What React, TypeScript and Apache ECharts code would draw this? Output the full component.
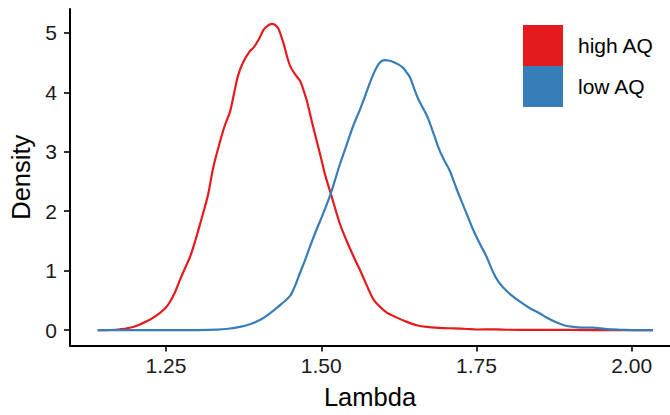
import React, { useEffect, useRef } from "react";
import * as echarts from "echarts";

const seriesNames = ["high AQ", "low AQ"];
const seriesColors = ["#E41A1C", "#377EB8"];

const highAQ: [number, number][] = [
  [1.14, 0], [1.16, 0.004], [1.176, 0.016], [1.197, 0.055], [1.219, 0.15], [1.235, 0.25],
  [1.248, 0.36], [1.256, 0.47], [1.265, 0.65], [1.273, 0.86], [1.281, 1.05], [1.289, 1.24],
  [1.297, 1.5], [1.305, 1.79], [1.312, 2.05], [1.318, 2.29], [1.326, 2.73], [1.337, 3.17],
  [1.345, 3.45], [1.353, 3.67], [1.36, 4.0], [1.366, 4.28], [1.374, 4.5], [1.385, 4.69],
  [1.391, 4.75], [1.4, 4.9], [1.407, 5.05], [1.414, 5.12], [1.42, 5.15], [1.426, 5.13],
  [1.431, 5.07], [1.439, 4.83], [1.445, 4.6], [1.45, 4.44], [1.458, 4.3], [1.466, 4.19],
  [1.471, 4.05], [1.477, 3.85], [1.485, 3.5], [1.493, 3.17], [1.5, 2.88], [1.506, 2.62],
  [1.517, 2.24], [1.53, 1.79], [1.541, 1.5], [1.552, 1.24], [1.562, 1.02], [1.576, 0.69],
  [1.584, 0.52], [1.595, 0.39], [1.605, 0.3], [1.62, 0.22], [1.638, 0.14], [1.655, 0.08],
  [1.67, 0.055], [1.69, 0.04], [1.713, 0.03], [1.735, 0.02], [1.75, 0.012], [1.782, 0.015],
  [1.8, 0.008], [1.85, 0.005], [1.9, 0.004], [1.95, 0.002], [2.0, 0.001], [2.034, 0],
];

const lowAQ: [number, number][] = [
  [1.14, 0], [1.2, 0], [1.26, 0.001], [1.3, 0.003], [1.332, 0.01], [1.35, 0.025],
  [1.369, 0.055], [1.385, 0.1], [1.401, 0.17], [1.412, 0.24], [1.423, 0.33], [1.437, 0.45],
  [1.45, 0.58], [1.458, 0.75], [1.466, 0.97], [1.474, 1.18], [1.482, 1.41], [1.492, 1.68],
  [1.503, 1.96], [1.514, 2.26], [1.522, 2.52], [1.53, 2.79], [1.541, 3.12], [1.552, 3.45],
  [1.562, 3.7], [1.57, 3.92], [1.578, 4.15], [1.585, 4.33], [1.592, 4.47], [1.598, 4.53],
  [1.603, 4.54], [1.61, 4.53], [1.616, 4.51], [1.624, 4.47], [1.632, 4.41], [1.637, 4.34],
  [1.643, 4.25], [1.649, 4.08], [1.656, 3.89], [1.664, 3.73], [1.672, 3.56], [1.681, 3.3],
  [1.691, 3.01], [1.7, 2.82], [1.707, 2.68], [1.715, 2.46], [1.723, 2.24], [1.734, 1.96],
  [1.745, 1.68], [1.756, 1.44], [1.766, 1.24], [1.777, 0.97], [1.785, 0.82], [1.793, 0.72],
  [1.806, 0.59], [1.82, 0.48], [1.836, 0.37], [1.852, 0.28], [1.865, 0.2], [1.879, 0.13],
  [1.892, 0.08], [1.906, 0.055], [1.92, 0.045], [1.938, 0.045], [1.95, 0.03], [1.96, 0.017],
  [1.98, 0.008], [2.0, 0.003], [2.034, 0],
];

const xTicks = [1.25, 1.5, 1.75, 2.0];
const yTicks = [0, 1, 2, 3, 4, 5];

const FONT = "'Liberation Sans', Arial, Helvetica, sans-serif";

export default function App() {
  const ref = useRef<HTMLDivElement>(null);
  useEffect(() => {
    if (!ref.current) return;
    const chart = echarts.init(ref.current, undefined, { renderer: "svg" });
    const dataSets = [highAQ, lowAQ];
    chart.setOption({
      animation: false,
      backgroundColor: "#ffffff",
      textStyle: { fontFamily: FONT },
      grid: { left: 70, right: 0, top: 9, bottom: 64.5, containLabel: false },
      legend: {
        orient: "vertical",
        left: 523,
        top: 25,
        itemWidth: 40,
        itemHeight: 41,
        itemGap: 0,
        icon: "rect",
        padding: 0,
        textStyle: { fontSize: 21, color: "#000", fontFamily: FONT, padding: [0, 0, 0, 10] },
        data: seriesNames.map((n, i) => ({ name: n, itemStyle: { color: seriesColors[i] } })),
      },
      xAxis: {
        type: "value",
        min: 1.0954,
        max: 2.0616,
        name: "Lambda",
        nameLocation: "middle",
        nameGap: 38.5,
        nameTextStyle: { fontSize: 25.5, color: "#000", fontFamily: FONT },
        axisLine: { onZero: false, lineStyle: { color: "#000", width: 2 } },
        axisTick: { length: 6, lineStyle: { color: "#000", width: 1.6 }, customValues: xTicks },
        axisLabel: {
          customValues: xTicks,
          fontSize: 21,
          color: "#1a1a1a",
          margin: 9,
          fontFamily: FONT,
          formatter: (v: number) => v.toFixed(2),
        },
        splitLine: { show: false },
      },
      yAxis: {
        type: "value",
        min: -0.257,
        max: 5.4,
        name: "Density",
        nameLocation: "middle",
        nameGap: 32.5,
        nameTextStyle: { fontSize: 25.5, color: "#000", fontFamily: FONT },
        axisLine: { show: true, onZero: false, lineStyle: { color: "#000", width: 2 } },
        axisTick: { show: true, length: 6, lineStyle: { color: "#000", width: 1.6 }, customValues: yTicks },
        axisLabel: { customValues: yTicks, fontSize: 21, color: "#1a1a1a", margin: 13, fontFamily: FONT },
        splitLine: { show: false },
      },
      series: seriesNames.map((n, i) => ({
        name: n,
        type: "line",
        data: dataSets[i],
        smooth: 0.3,
        showSymbol: false,
        symbol: "none",
        color: seriesColors[i],
        itemStyle: { color: seriesColors[i] },
        lineStyle: { color: seriesColors[i], width: 2.2 },
      })),
    });
    return () => chart.dispose();
  }, []);
  return <div ref={ref} style={{ width: 670, height: 415, position: "absolute", left: 0, top: 0 }} />;
}
